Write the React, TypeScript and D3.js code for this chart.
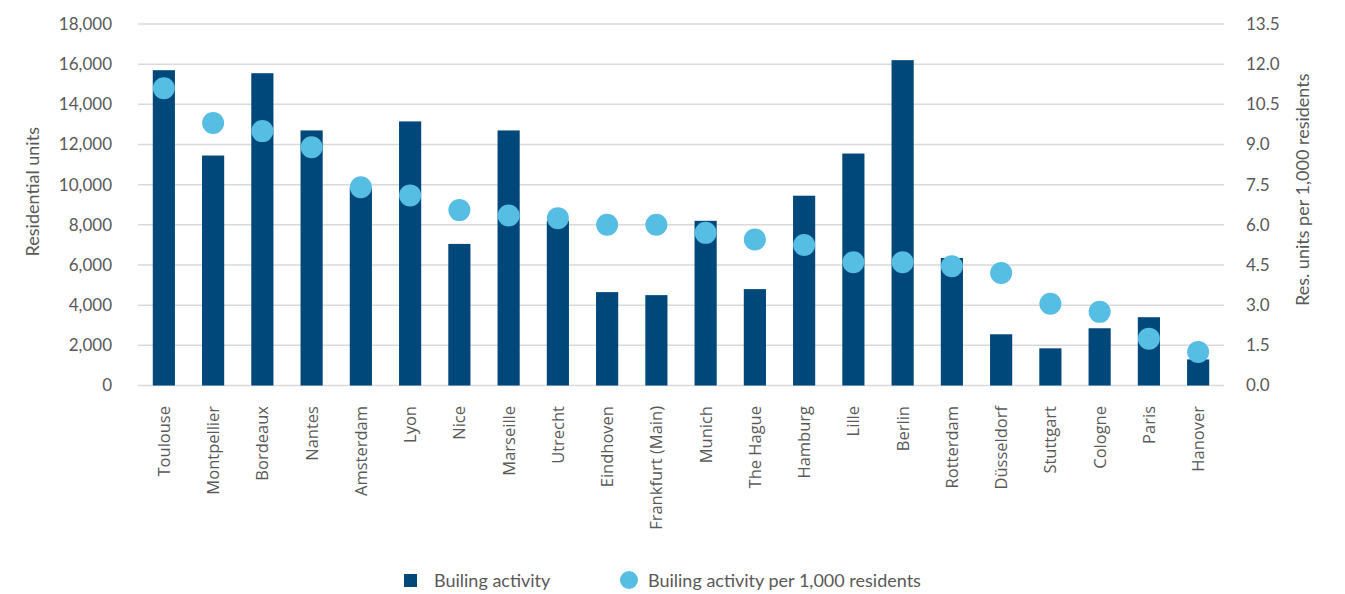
import { useEffect, useRef } from "react";
import * as d3 from "d3";

const cities = [
  "Toulouse", "Montpellier", "Bordeaux", "Nantes", "Amsterdam", "Lyon", "Nice",
  "Marseille", "Utrecht", "Eindhoven", "Frankfurt (Main)", "Munich", "The Hague",
  "Hamburg", "Lille", "Berlin", "Rotterdam", "Düsseldorf", "Stuttgart", "Cologne",
  "Paris", "Hanover",
];

const units = [
  15700, 11450, 15550, 12700, 9850, 13150, 7050, 12700, 8200, 4650, 4500, 8200,
  4800, 9450, 11550, 16200, 6350, 2550, 1850, 2850, 3400, 1300,
];

const perThousand = [
  11.1, 9.8, 9.5, 8.9, 7.4, 7.1, 6.55, 6.35, 6.25, 6.0, 6.0, 5.7, 5.45, 5.25,
  4.6, 4.6, 4.45, 4.2, 3.05, 2.75, 1.75, 1.25,
];

const leftTicks = [0, 2000, 4000, 6000, 8000, 10000, 12000, 14000, 16000, 18000];
const rightTicks = [0, 1.5, 3, 4.5, 6, 7.5, 9, 10.5, 12, 13.5];

const W = 1345;
const H = 594;
const FONT = "Lato, 'Open Sans', sans-serif";
const TEXT = "#595959";
const BAR = "#00477a";
const DOT = "#56bde3";

export default function App() {
  const svgRef = useRef<SVGSVGElement>(null);

  useEffect(() => {
    if (!svgRef.current) return;
    document.body.style.margin = "0";

    const svg = d3.select(svgRef.current);
    svg.selectAll("*").remove();

    const plot = { left: 138, right: 1224, top: 24, bottom: 385.5 };

    // Scales
    const x = d3
      .scaleBand()
      .domain(cities)
      .range([plot.left, plot.right])
      .paddingInner(0.55)
      .paddingOuter(0.3);

    const yLeft = d3.scaleLinear().domain([0, 18000]).range([plot.bottom, plot.top]);
    const yRight = d3.scaleLinear().domain([0, 13.5]).range([plot.bottom, plot.top]);

    // Gridlines
    svg
      .append("g")
      .selectAll("line")
      .data(leftTicks)
      .enter()
      .append("line")
      .attr("x1", plot.left)
      .attr("x2", plot.right)
      .attr("y1", (d) => yLeft(d))
      .attr("y2", (d) => yLeft(d))
      .attr("stroke", "#d9d9d9")
      .attr("stroke-width", 1.5);

    // Left axis
    const gl = svg
      .append("g")
      .attr("transform", `translate(${plot.left - 26},0)`)
      .call(
        d3
          .axisLeft(yLeft)
          .tickValues(leftTicks)
          .tickSize(0)
          .tickPadding(0)
          .tickFormat((d) => d3.format(",")(d as number))
      );
    gl.select(".domain").remove();
    gl.selectAll("text")
      .style("font-family", FONT)
      .style("font-size", "17px")
      .attr("fill", TEXT);

    // Right axis
    const gr = svg
      .append("g")
      .attr("transform", `translate(${plot.right + 22},0)`)
      .call(
        d3
          .axisRight(yRight)
          .tickValues(rightTicks)
          .tickSize(0)
          .tickPadding(0)
          .tickFormat((d) => d3.format(".1f")(d as number))
      );
    gr.select(".domain").remove();
    gr.selectAll("text")
      .style("font-family", FONT)
      .style("font-size", "17px")
      .attr("fill", TEXT);

    // Axis titles
    svg
      .append("text")
      .attr("transform", `translate(39,${(plot.top + plot.bottom) / 2 - 13}) rotate(-90)`)
      .attr("text-anchor", "middle")
      .style("font-family", FONT)
      .style("font-size", "18px")
      .attr("fill", TEXT)
      .text("Residential units");

    svg
      .append("text")
      .attr("transform", `translate(1309,${(plot.top + plot.bottom) / 2 - 15}) rotate(-90)`)
      .attr("text-anchor", "middle")
      .style("font-family", FONT)
      .style("font-size", "18px")
      .attr("fill", TEXT)
      .text("Res. units per 1,000 residents");

    // Bars
    svg
      .append("g")
      .selectAll("rect")
      .data(cities)
      .enter()
      .append("rect")
      .attr("x", (d) => x(d)!)
      .attr("y", (_, i) => yLeft(units[i]))
      .attr("width", x.bandwidth())
      .attr("height", (_, i) => plot.bottom - yLeft(units[i]))
      .attr("fill", BAR);

    // Dots
    svg
      .append("g")
      .selectAll("circle")
      .data(cities)
      .enter()
      .append("circle")
      .attr("cx", (d) => x(d)! + x.bandwidth() / 2)
      .attr("cy", (_, i) => yRight(perThousand[i]))
      .attr("r", 11)
      .attr("fill", DOT);

    // Category labels
    svg
      .append("g")
      .selectAll("text")
      .data(cities)
      .enter()
      .append("text")
      .attr(
        "transform",
        (d) => `translate(${x(d)! + x.bandwidth() / 2 + 6},406) rotate(-90)`
      )
      .attr("text-anchor", "end")
      .style("font-family", "'Open Sans', sans-serif")
      .style("font-size", "16.5px")
      .attr("fill", TEXT)
      .text((d) => d);

    // Legend
    const lg = svg.append("g");
    lg.append("rect")
      .attr("x", 404)
      .attr("y", 574)
      .attr("width", 13)
      .attr("height", 13)
      .attr("fill", BAR);
    lg.append("text")
      .attr("x", 434)
      .attr("y", 587)
      .style("font-family", FONT)
      .style("font-size", "18px")
      .attr("fill", TEXT)
      .text("Builing activity");
    lg.append("circle")
      .attr("cx", 629)
      .attr("cy", 580)
      .attr("r", 9)
      .attr("fill", DOT);
    lg.append("text")
      .attr("x", 648)
      .attr("y", 587)
      .style("font-family", FONT)
      .style("font-size", "18px")
      .attr("fill", TEXT)
      .text("Builing activity per 1,000 residents");
  }, []);

  return <svg ref={svgRef} width={W} height={H} style={{ display: "block", background: "#fff" }} />;
}
